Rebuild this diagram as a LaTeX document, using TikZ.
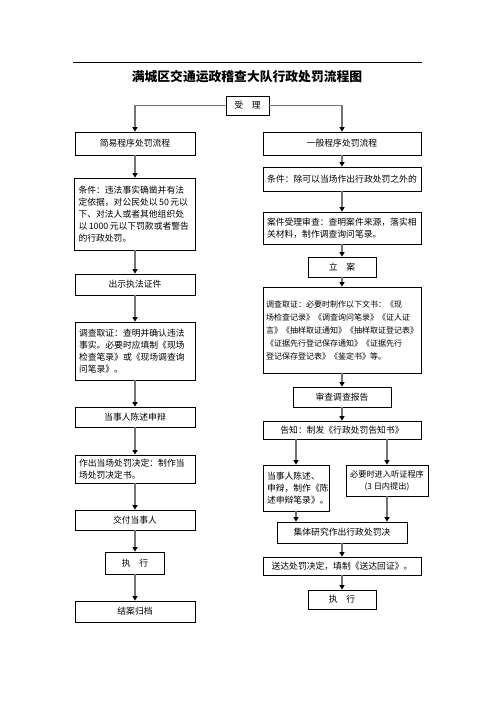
\documentclass[tikz,border=0pt]{standalone}
\usepackage{fontspec}
\setmainfont{Noto Sans CJK SC}
\usetikzlibrary{arrows.meta}
\begin{document}
\begin{tikzpicture}[x=1pt,y=-1pt]
			\tikzstyle{box}=[draw,line width=0.8pt,inner sep=3pt,font=\fontsize{8.8}{12}\selectfont]
			\tikzstyle{para}=[box,align=left,inner sep=4pt]
			\tikzstyle{flow}=[draw=black!55,line width=1.8pt,-{Triangle[color=black,length=4.5pt,width=5pt]}]
			\useasboundingbox (0,0) rectangle (496,702);
			\draw[line width=0.7pt] (73,62) -- (422,62);
			\node[font=\fontsize{12.8}{14}\selectfont\bfseries] (title) at (247,77) {满城区交通运政稽查大队行政处罚流程图};
			% accept and the two procedures
			\node[box,minimum width=43pt,minimum height=19pt] (accept) at (247.5,105.5) {受　理};
			\node[box,minimum width=120pt,minimum height=23pt] (simple) at (135,143.5) {简易程序处罚流程};
			\node[box,minimum width=158pt,minimum height=23pt] (general) at (342,143.5) {一般程序处罚流程};
			% left column
			\node[para,text width=113pt,minimum height=72pt] (condL) at (135,214) {条件：违法事实确凿并有法\\定依据，对公民处以\,50\,元以\\下、对法人或者其他组织处\\以\,1000\,元以下罚款或者警告\\的行政处罚。};
			\node[box,minimum width=120pt,minimum height=21pt] (showid) at (135,284.5) {出示执法证件};
			\node[para,text width=112pt,minimum height=58pt] (investL) at (135,351) {调查取证：查明并确认违法\\事实。必要时应填制《现场\\检查笔录》或《现场调查询\\问笔录》。};
			\node[box,minimum width=120pt,minimum height=20pt] (defendL) at (135,417) {当事人陈述申辩};
			\node[para,text width=112pt,minimum height=28pt] (decideL) at (135,469) {作出当场处罚决定：制作当\\场处罚决定书。};
			\node[box,minimum width=120pt,minimum height=20pt] (deliver) at (135,520) {交付当事人};
			\node[box,minimum width=59pt,minimum height=22pt] (execL) at (135,563) {执　行};
			\node[box,minimum width=120pt,minimum height=21pt] (archive) at (135,611.5) {结案归档};
			% right column
			\node[box,minimum width=158pt,minimum height=24pt] (condR) at (342,179) {条件：除可以当场作出行政处罚之外的};
			\node[para,text width=150pt,minimum height=32pt] (review) at (342,228) {案件受理审查：查明案件来源，落实相\\关材料，制作调查询问笔录。};
			\node[box,minimum width=68pt,minimum height=20pt] (filing) at (342,267) {立　案};
			\node[para,inner sep=3pt,text width=152pt,minimum height=86pt,font=\fontsize{8}{13}\selectfont] (investR) at (342,330) {调查取证：必要时制作以下文书：《现\\场检查记录》《调查询问笔录》《证人证\\言》《抽样取证通知》《抽样取证登记表》\\《证据先行登记保存通知》《证据先行\\登记保存登记表》《鉴定书》等。};
			\node[box,minimum width=98pt,minimum height=20pt] (report) at (342,397) {审查调查报告};
			\node[box,minimum width=158pt,minimum height=18pt] (notify) at (342,430) {告知：制发《行政处罚告知书》};
			\node[para,text width=58pt,minimum height=46pt] (stateR) at (296,488) {当事人陈述、\\申辩，制作《陈\\述申辩笔录》。};
			\node[box,align=center,minimum width=82pt,minimum height=31pt,font=\fontsize{8.2}{12}\selectfont] (hearing) at (387,480.5) {必要时进入听证程序\\(3 日内提出)};
			\node[box,minimum width=130pt,minimum height=21pt] (collective) at (342,532.5) {集体研究作出行政处罚决};
			\node[box,minimum width=158pt,minimum height=18pt] (serve) at (342,566) {送达处罚决定，填制《送达回证》。};
			\node[box,minimum width=68pt,minimum height=19pt] (execR) at (342,599.5) {执　行};
			% connectors
			\draw[flow] (accept.west) -| (simple.north);
			\draw[flow] (accept.east) -| (general.north);
			\foreach \a/\b in {simple/condL,condL/showid,showid/investL,investL/defendL,defendL/decideL,decideL/deliver,deliver/execL,execL/archive,general/condR,condR/review,review/filing,filing/investR,investR/report,report/notify,collective/serve,serve/execR}
			{
				\draw[flow] (\a) -- (\b);
			}
			\draw[flow] (notify.south -| stateR.north) -- (stateR.north);
			\draw[flow] (notify.south -| hearing.north) -- (hearing.north);
			\draw[flow] (stateR.south) -- (stateR.south |- collective.north);
			\draw[flow] (hearing.south) -- (hearing.south |- collective.north);
\end{tikzpicture}
\end{document}
